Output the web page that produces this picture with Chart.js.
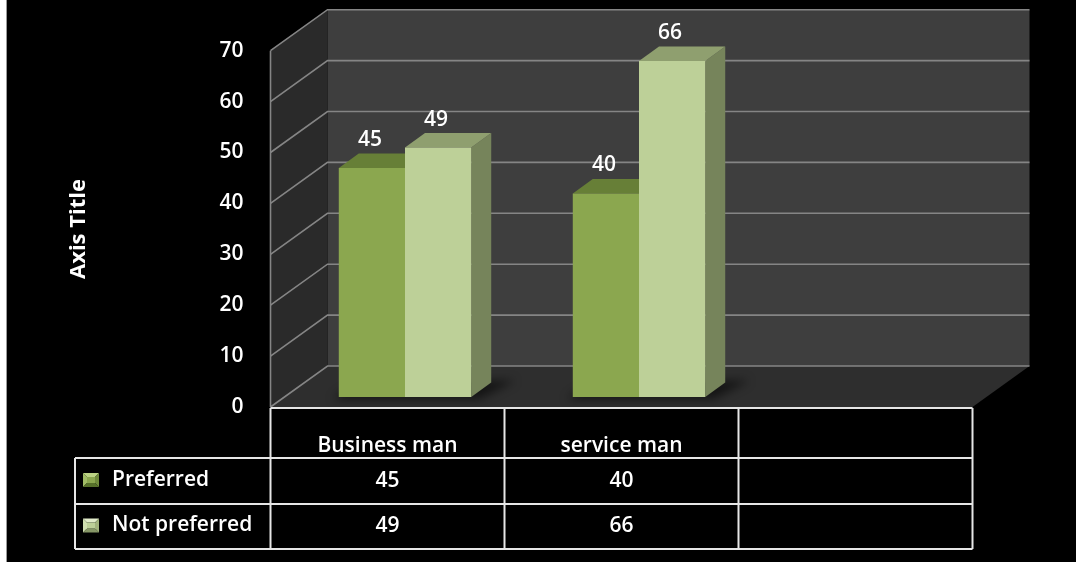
<!DOCTYPE html>
<html>
<head>
<meta charset="utf-8">
<title>Preferred vs Not preferred</title>
<script src="https://cdn.jsdelivr.net/npm/chart.js@4.4.0/dist/chart.umd.min.js"></script>
<style>
  html, body { margin: 0; padding: 0; background: #000; }
  canvas { display: block; }
</style>
</head>
<body>
<canvas id="prefChart" width="1076" height="562"></canvas>
<script>
const categories = ["Business man", "service man", ""];
const preferred = [45, 40, null];
const notPreferred = [49, 66, null];
const yTicks = [0, 10, 20, 30, 40, 50, 60, 70];
const seriesNames = ["Preferred", "Not preferred"];
const axisTitle = "Axis Title";

const FONT = "'Open Sans', 'Noto Sans', sans-serif";
const TEXT = "600 21px " + FONT;

// The bars stand in a middle plane; the wall edges sit in front of and behind it
const FRONT = { x: -17.5, y: 10 };
const BACK = { x: 39.5, y: -31 };
const BAR_DEPTH = { x: 20, y: -14.5 };

const palette = [
  { front: "#8ba74f", top: "#677f37", side: "#5f7533",
    mark: { face: "#8ba74f", top: "#bcd383", left: "#a2bd66", right: "#6f8a3b", bottom: "#56702a" } },
  { front: "#bdd098", top: "#8f9f6f", side: "#76845b",
    mark: { face: "#bdd098", top: "#e2ecca", left: "#d0dfb0", right: "#a2b47d", bottom: "#869766" } }
];

function poly(ctx, pts, fill) {
  ctx.beginPath();
  ctx.moveTo(pts[0][0], pts[0][1]);
  for (let i = 1; i < pts.length; i++) ctx.lineTo(pts[i][0], pts[i][1]);
  ctx.closePath();
  ctx.fillStyle = fill;
  ctx.fill();
}

// back wall, side wall, floor, gridlines and value axis labels
const wallsPlugin = {
  id: "walls",
  beforeDraw(chart) {
    const ctx = chart.ctx;
    const area = chart.chartArea;
    const y = chart.scales.y;
    const yMax = yTicks[yTicks.length - 1];

    ctx.save();
    ctx.fillStyle = "#000";
    ctx.fillRect(0, 0, chart.width, chart.height);
    ctx.fillStyle = "#fff";
    ctx.fillRect(0, 0, 6, chart.height);
    ctx.fillStyle = "#9a9a9a";
    ctx.fillRect(6, 0, 1, chart.height);

    const fl = area.left + FRONT.x;
    const fr = area.right + FRONT.x;
    const bl = area.left + BACK.x;
    const br = area.right + BACK.x;
    const fy = v => y.getPixelForValue(v) + FRONT.y;
    const by = v => y.getPixelForValue(v) + BACK.y;

    poly(ctx, [[bl, by(yMax)], [br, by(yMax)], [br, by(0)], [bl, by(0)]], "#3e3e3e");
    poly(ctx, [[fl, fy(yMax)], [bl, by(yMax)], [bl, by(0)], [fl, fy(0)]], "#2a2a2a");
    poly(ctx, [[fl, fy(0)], [bl, by(0)], [br, by(0)], [fr, fy(0)]], "#2e2e2e");

    ctx.strokeStyle = "#858585";
    ctx.lineWidth = 1.6;
    yTicks.forEach(v => {
      ctx.beginPath();
      ctx.moveTo(fl, fy(v));
      ctx.lineTo(bl, by(v));
      ctx.lineTo(br, by(v));
      ctx.stroke();
    });
    ctx.beginPath();
    ctx.moveTo(fl, fy(yMax));
    ctx.lineTo(fl, fy(0));
    ctx.stroke();

    ctx.fillStyle = "#fff";
    ctx.font = TEXT;
    ctx.textAlign = "right";
    ctx.textBaseline = "middle";
    yTicks.forEach(v => ctx.fillText(String(v), fl - 27, fy(v)));

    ctx.translate(79, 229);
    ctx.rotate(-Math.PI / 2);
    ctx.textAlign = "center";
    ctx.font = "bold 22px " + FONT;
    ctx.fillText(axisTitle, 0, 0);
    ctx.restore();
  },

  // floor shadows and the top / side faces of every bar, drawn under the front faces
  beforeDatasetsDraw(chart) {
    const ctx = chart.ctx;
    const metas = chart.data.datasets.map((d, i) => chart.getDatasetMeta(i));

    ctx.save();
    ctx.filter = "blur(5px)";
    categories.forEach((c, j) => {
      const bars = metas.map(m => m.data[j]).filter((b, i) => chart.data.datasets[i].data[j] != null);
      if (!bars.length) return;
      const l = bars[0].x - bars[0].width / 2;
      const r = bars[bars.length - 1].x + bars[bars.length - 1].width / 2;
      const b = bars[0].base;
      poly(ctx, [[l - 6, b + 2], [r + 8, b + 2], [r + BAR_DEPTH.x + 24, b + BAR_DEPTH.y - 2], [l + BAR_DEPTH.x, b + BAR_DEPTH.y - 2]], "rgba(0,0,0,0.55)");
    });
    ctx.filter = "none";

    metas.forEach((meta, i) => {
      meta.data.forEach((bar, j) => {
        if (chart.data.datasets[i].data[j] == null) return;
        const l = bar.x - bar.width / 2;
        const r = bar.x + bar.width / 2;
        const t = bar.y;
        const b = bar.base;
        const dx = BAR_DEPTH.x, dy = BAR_DEPTH.y;
        poly(ctx, [[r, t], [r + dx, t + dy], [r + dx, b + dy], [r, b]], palette[i].side);
        poly(ctx, [[l, t], [r, t], [r + dx, t + dy], [l + dx, t + dy]], palette[i].top);
      });
    });
    ctx.restore();
  },

  // value labels above the bars
  afterDatasetsDraw(chart) {
    const ctx = chart.ctx;
    ctx.save();
    ctx.fillStyle = "#fff";
    ctx.font = TEXT;
    ctx.textAlign = "center";
    ctx.textBaseline = "middle";
    chart.data.datasets.forEach((ds, i) => {
      chart.getDatasetMeta(i).data.forEach((bar, j) => {
        if (ds.data[j] == null) return;
        ctx.fillText(String(ds.data[j]), bar.x - 2, bar.y - 28);
      });
    });
    ctx.restore();
  }
};

function bevelMark(ctx, x, y, w, h, m) {
  const k = 4;
  poly(ctx, [[x, y], [x + w, y], [x + w - k, y + k], [x + k, y + k]], m.top);
  poly(ctx, [[x, y], [x + k, y + k], [x + k, y + h - k], [x, y + h]], m.left);
  poly(ctx, [[x + w, y], [x + w, y + h], [x + w - k, y + h - k], [x + w - k, y + k]], m.right);
  poly(ctx, [[x, y + h], [x + k, y + h - k], [x + w - k, y + h - k], [x + w, y + h]], m.bottom);
  poly(ctx, [[x + k, y + k], [x + w - k, y + k], [x + w - k, y + h - k], [x + k, y + h - k]], m.face);
}

// data table under the plot: category header row plus one row per series
const tablePlugin = {
  id: "dataTable",
  afterDraw(chart) {
    const ctx = chart.ctx;
    const area = chart.chartArea;
    const colW = (area.right - area.left) / categories.length;
    const x0 = area.left + FRONT.x;
    const x1 = area.right + FRONT.x;
    const legendLeft = 75;
    const rows = [408, 458, 504, 549];

    ctx.save();
    ctx.strokeStyle = "#e6e6e6";
    ctx.lineWidth = 2;
    ctx.beginPath();
    ctx.moveTo(x0, rows[0]); ctx.lineTo(x1, rows[0]);
    for (let r = 1; r < rows.length; r++) {
      ctx.moveTo(legendLeft, rows[r]); ctx.lineTo(x1, rows[r]);
    }
    ctx.moveTo(legendLeft, rows[1]); ctx.lineTo(legendLeft, rows[3]);
    for (let c = 0; c <= categories.length; c++) {
      ctx.moveTo(x0 + c * colW, rows[0]); ctx.lineTo(x0 + c * colW, rows[3]);
    }
    ctx.stroke();

    ctx.fillStyle = "#fff";
    ctx.font = TEXT;
    ctx.textAlign = "center";
    ctx.textBaseline = "alphabetic";
    categories.forEach((c, j) => ctx.fillText(c, x0 + (j + 0.5) * colW, 452));

    chart.data.datasets.forEach((ds, i) => {
      const top = rows[i + 1], bottom = rows[i + 2];
      const mid = (top + bottom) / 2;
      bevelMark(ctx, 83, mid - 8, 16, 14, palette[i].mark);
      ctx.fillStyle = "#fff";
      ctx.textAlign = "left";
      ctx.textBaseline = "middle";
      ctx.fillText(ds.label, 112, mid - 1);
      ctx.textAlign = "center";
      ds.data.forEach((v, j) => {
        if (v == null) return;
        ctx.fillText(String(v), x0 + (j + 0.5) * colW, mid);
      });
    });
    ctx.restore();
  }
};

const ctx = document.getElementById("prefChart").getContext("2d");
const prefChart = new Chart(ctx, {
  type: "bar",
  data: {
    labels: categories,
    datasets: [
      { label: seriesNames[0], data: preferred, backgroundColor: palette[0].front, borderWidth: 0 },
      { label: seriesNames[1], data: notPreferred, backgroundColor: palette[1].front, borderWidth: 0 }
    ]
  },
  options: {
    responsive: false,
    animation: false,
    layout: { padding: { left: 288, right: 86, top: 40.7, bottom: 165 } },
    datasets: { bar: { categoryPercentage: 0.566, barPercentage: 1.0 } },
    scales: {
      x: { display: false },
      y: { display: false, min: 0, max: 70 }
    },
    plugins: {
      legend: { display: false },
      tooltip: { enabled: false }
    }
  },
  plugins: [wallsPlugin, tablePlugin]
});
</script>
</body>
</html>
